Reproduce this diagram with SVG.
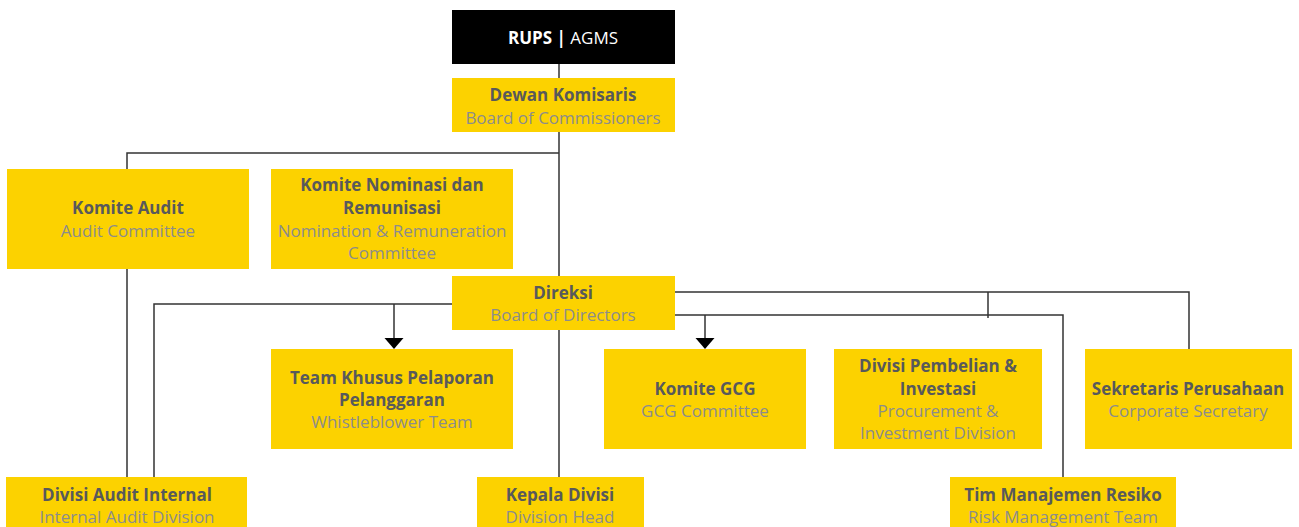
<svg xmlns="http://www.w3.org/2000/svg" width="1299" height="527" viewBox="0 0 1299 527">
<style>
.box{fill:#FCD200}
.t{font-family:"Open Sans","Noto Sans",sans-serif;font-size:17px;text-anchor:middle}
.b{font-weight:bold;fill:#58595B}
.s{fill:#8C8C8C}
.ln{fill:none;stroke:#333;stroke-width:1.5}
</style>
<defs>
<marker id="arr" markerWidth="19" markerHeight="11" refX="9.5" refY="11" orient="auto-start-reverse" markerUnits="userSpaceOnUse" viewBox="0 0 19 11">
<path d="M0,0 L19,0 L9.5,11 Z" fill="#000"/>
</marker>
</defs>
<rect width="1299" height="527" fill="#fff"/>
<g id="connectors">
<path class="ln" d="M559,64 V78"/>
<path class="ln" d="M559,132 V276"/>
<path class="ln" d="M559,153 H127 V477"/>
<path class="ln" d="M452,304 H154 V477"/>
<path class="ln" d="M394,304 V339"/>
<path d="M384.5,338 H403.5 L394,349 Z" fill="#000"/>
<path class="ln" d="M559,330 V477"/>
<path class="ln" d="M675,292 H1189 V349"/>
<path class="ln" d="M988,292 V318"/>
<path class="ln" d="M675,315 H1063 V477"/>
<path class="ln" d="M705,315 V339"/>
<path d="M695.5,338 H714.5 L705,349 Z" fill="#000"/>
</g>
<g id="rups">
<rect x="452" y="10" width="223" height="54" fill="#000"/>
<text class="t" x="563" y="44" fill="#fff"><tspan font-weight="bold">RUPS |</tspan> AGMS</text>
</g>
<g id="dewan">
<rect class="box" x="452" y="78" width="223" height="54"/>
<text class="t b" x="563" y="101">Dewan Komisaris</text>
<text class="t s" x="563" y="124">Board of Commissioners</text>
</g>
<g id="komite-audit">
<rect class="box" x="7" y="169" width="242" height="100"/>
<text class="t b" x="128" y="214">Komite Audit</text>
<text class="t s" x="128" y="237">Audit Committee</text>
</g>
<g id="komite-nominasi">
<rect class="box" x="271" y="169" width="242" height="100"/>
<text class="t b" x="392" y="191">Komite Nominasi dan</text>
<text class="t b" x="392" y="214">Remunisasi</text>
<text class="t s" x="392" y="237">Nomination &amp; Remuneration</text>
<text class="t s" x="392" y="259">Committee</text>
</g>
<g id="direksi">
<rect class="box" x="452" y="276" width="223" height="54"/>
<text class="t b" x="563" y="299">Direksi</text>
<text class="t s" x="563" y="321">Board of Directors</text>
</g>
<g id="team-khusus">
<rect class="box" x="271" y="349" width="242" height="100"/>
<text class="t b" x="392" y="384">Team Khusus Pelaporan</text>
<text class="t b" x="392" y="406">Pelanggaran</text>
<text class="t s" x="392" y="428">Whistleblower Team</text>
</g>
<g id="komite-gcg">
<rect class="box" x="604" y="349" width="202" height="100"/>
<text class="t b" x="705" y="395">Komite GCG</text>
<text class="t s" x="705" y="417">GCG Committee</text>
</g>
<g id="divisi-pembelian">
<rect class="box" x="834" y="349" width="208" height="100"/>
<text class="t b" x="938" y="372">Divisi Pembelian &amp;</text>
<text class="t b" x="938" y="395">Investasi</text>
<text class="t s" x="938" y="417">Procurement &amp;</text>
<text class="t s" x="938" y="439">Investment Division</text>
</g>
<g id="sekretaris">
<rect class="box" x="1085" y="349" width="207" height="100"/>
<text class="t b" x="1188" y="395">Sekretaris Perusahaan</text>
<text class="t s" x="1188" y="417">Corporate Secretary</text>
</g>
<g id="divisi-audit-internal">
<rect class="box" x="6" y="477" width="241" height="60"/>
<text class="t b" x="127" y="501">Divisi Audit Internal</text>
<text class="t s" x="127" y="523">Internal Audit Division</text>
</g>
<g id="kepala-divisi">
<rect class="box" x="477" y="477" width="167" height="60"/>
<text class="t b" x="560" y="501">Kepala Divisi</text>
<text class="t s" x="560" y="523">Division Head</text>
</g>
<g id="tim-manajemen">
<rect class="box" x="950" y="477" width="226" height="60"/>
<text class="t b" x="1063" y="501">Tim Manajemen Resiko</text>
<text class="t s" x="1063" y="523">Risk Management Team</text>
</g>
</svg>
